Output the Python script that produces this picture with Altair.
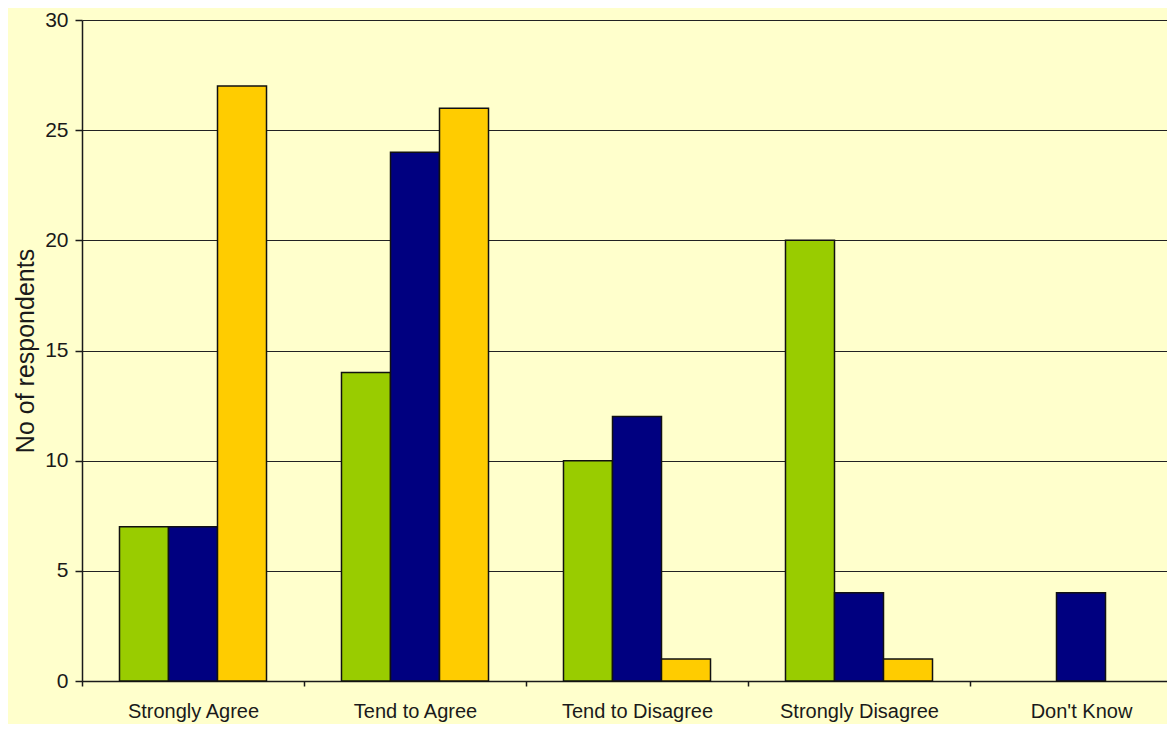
import altair as alt
import pandas as pd

categories = ["Strongly Agree", "Tend to Agree", "Tend to Disagree", "Strongly Disagree", "Don't Know"]
series_names = ["Series 1", "Series 2", "Series 3"]
series1 = [7, 14, 10, 20, 0]
series2 = [7, 24, 12, 4, 4]
series3 = [27, 26, 1, 1, 0]
colors = ["#99CC00", "#000080", "#FFCC00"]

rows = []
for s_name, vals in zip(series_names, [series1, series2, series3]):
    for c, v in zip(categories, vals):
        if v > 0:
            rows.append({"category": c, "series": s_name, "value": v})
df = pd.DataFrame(rows)

FONT = "Liberation Sans"
INK = "#1a1a1a"

chart = alt.Chart(df).mark_bar(stroke="#111111", strokeWidth=1.5).encode(
    x=alt.X("category:N", sort=categories, title=None,
            scale=alt.Scale(range=[0, 1110], paddingInner=0, paddingOuter=0),
            axis=alt.Axis(labelAngle=0, tickBand="extent", tickSize=5, tickColor=INK,
                          tickWidth=1.5, domainColor=INK, domainWidth=1.5,
                          labelFontSize=20, labelFont=FONT, labelColor=INK,
                          labelPadding=15, grid=False)),
    xOffset=alt.XOffset("series:N", sort=series_names,
                        scale=alt.Scale(paddingOuter=0.765, paddingInner=0)),
    y=alt.Y("value:Q", title="No of respondents",
            scale=alt.Scale(domain=[0, 30], nice=False),
            axis=alt.Axis(values=[0, 5, 10, 15, 20, 25, 30], tickSize=7, tickColor=INK,
                          tickWidth=1.5, domainColor=INK, domainWidth=1.5,
                          gridColor="#222222", gridWidth=1.2, grid=True,
                          labelFontSize=21, labelFont=FONT, labelColor=INK,
                          labelPadding=7, titleFontSize=25, titleFont=FONT,
                          titleFontWeight="normal", titleColor=INK, titlePadding=6)),
    color=alt.Color("series:N", sort=series_names,
                    scale=alt.Scale(domain=series_names, range=colors), legend=None),
).properties(
    width=1085,
    height=661,
    background="#FFFFCC",
    autosize=alt.AutoSizeParams(type="none"),
    padding={"left": 74, "top": 12, "right": 0, "bottom": 43},
).configure_view(stroke=None)

chart.save("out.html", embed_options={"renderer": "svg", "actions": False})
